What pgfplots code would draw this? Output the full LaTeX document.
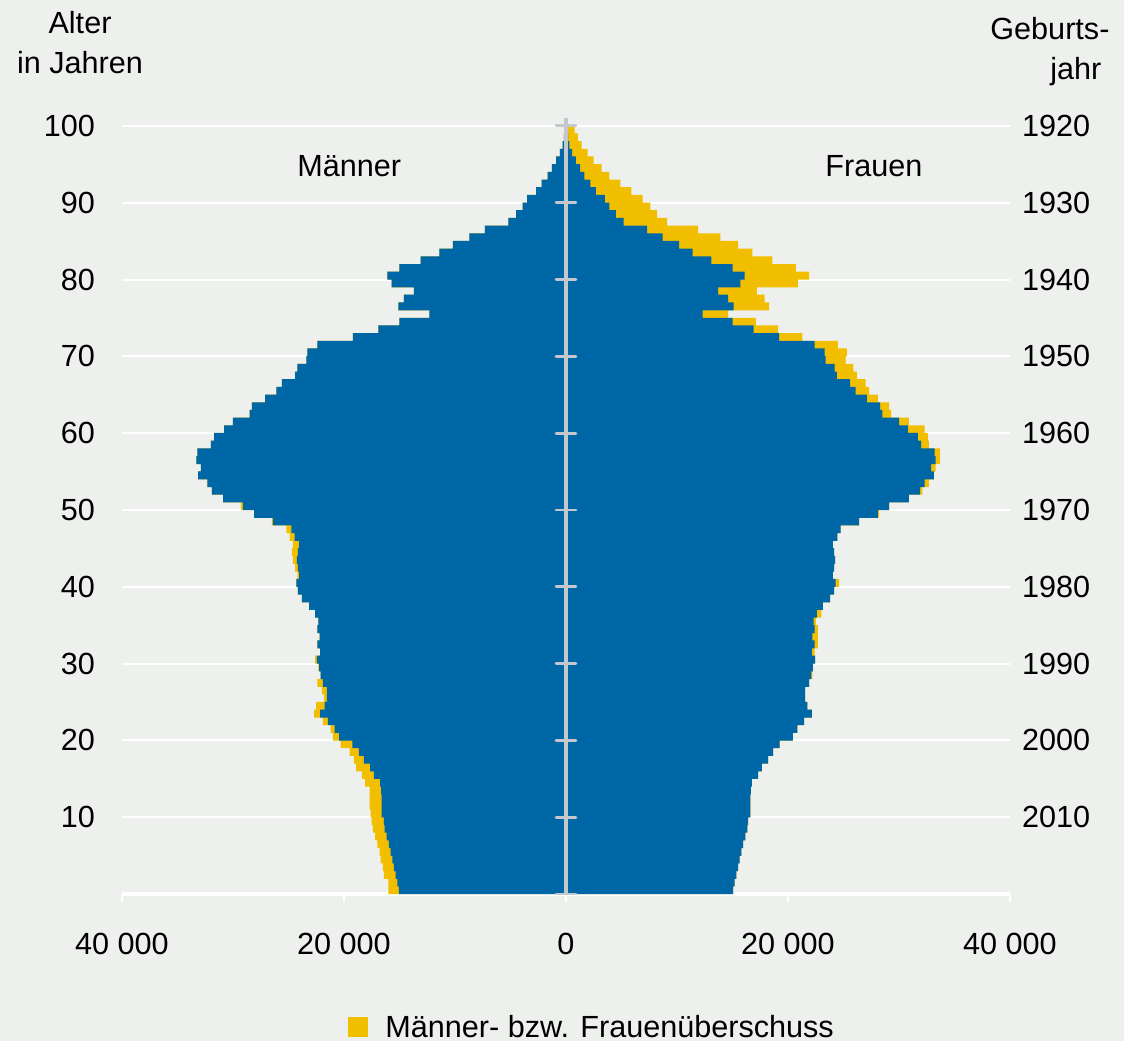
\documentclass[border=0pt]{standalone}
\usepackage{fontspec}
\setmainfont{Liberation Sans}
\usepackage{pgfplots}
\usepackage{pgfplotstable}
\pgfplotsset{compat=1.18}
\definecolor{bg}{RGB}{238,240,238}
\definecolor{dblue}{RGB}{0,103,166}
\definecolor{dyellow}{RGB}{242,190,0}
\definecolor{cgray}{RGB}{196,200,204}
\newcommand\cf{\fontsize{15.3}{18}\selectfont}
\pgfplotstableread{
age M F B
0 16000 15050 15050
1 16000 15200 15200
2 16400 15350 15350
3 16500 15500 15500
4 16700 15650 15650
5 16800 15800 15800
6 17000 15950 15950
7 17200 16150 16150
8 17400 16350 16350
9 17500 16400 16400
10 17600 16600 16600
11 17700 16600 16600
12 17700 16600 16600
13 17700 16650 16650
14 18100 16750 16750
15 18400 17300 17300
16 18900 17650 17650
17 19100 18200 18200
18 19500 18650 18650
19 20300 19250 19250
20 21000 20450 20450
21 21200 20850 20850
22 21900 21450 21450
23 22700 22150 22150
24 22500 21750 21750
25 21800 21550 21550
26 22000 21550 21550
27 22400 21900 21900
28 22100 22200 22100
29 22300 22250 22250
30 22600 22450 22450
31 22150 22400 22150
32 22400 22700 22400
33 22200 22700 22200
34 22400 22700 22400
35 22300 22500 22300
36 22600 23000 22600
37 23150 23150 23150
38 23800 23800 23800
39 24150 24150 24150
40 24300 24600 24300
41 24200 24050 24050
42 24400 24150 24150
43 24600 24250 24250
44 24700 24150 24150
45 24600 24050 24050
46 24900 24450 24450
47 25200 24750 24750
48 26500 26400 26400
49 28100 28200 28100
50 29300 29100 29100
51 30900 30900 30900
52 31900 32100 31900
53 32300 32700 32300
54 33150 33150 33150
55 32900 33300 32900
56 33300 33700 33300
57 33200 33700 33200
58 32000 32700 32000
59 31700 32600 31700
60 30800 32300 30800
61 30000 30900 30000
62 28500 29300 28500
63 28300 29100 28300
64 27100 28100 27100
65 26100 27300 26100
66 25600 27000 25600
67 24400 26200 24400
68 24200 25900 24200
69 23400 25200 23400
70 23300 25300 23300
71 22400 24500 22400
72 19200 21300 19200
73 16900 19100 16900
74 15000 17100 15000
75 12300 14600 12300
76 15100 18300 15100
77 14600 17900 14600
78 13700 17200 13700
79 15700 20900 15700
80 16100 21900 16100
81 15000 20700 15000
82 13100 18600 13100
83 11400 16800 11400
84 10200 15500 10200
85 8700 13900 8700
86 7300 11900 7300
87 5200 9100 5200
88 4500 8200 4500
89 3900 7600 3900
90 3500 6900 3500
91 2700 5900 2700
92 2200 4900 2200
93 1650 3900 1650
94 1270 3200 1270
95 900 2500 900
96 550 1940 550
97 300 1400 300
98 200 1070 200
99 100 770 100
}\pop
\begin{document}
\begin{tikzpicture}
\fill[bg] (0,0) rectangle (562pt,-520.5pt);
\begin{axis}[
  at={(61pt,-447pt)}, anchor=south west,
  scale only axis, width=444pt, height=387.9pt,
  xmin=-40000, xmax=40000, ymin=0, ymax=101,
  axis x line*=bottom, axis y line*=left,
  x axis line style={-, white, line width=2pt},
  y axis line style={draw=none},
  scaled x ticks=false,
  xtick={-40000,-20000,0,20000,40000},
  xticklabels={40 000,20 000,0,20 000,40 000},
  ytick={10,20,30,40,50,60,70,80,90,100},
  yticklabels={10,20,30,40,50,60,70,80,90,100},
  tick label style={font=\cf, text=black},
  xtick style={white, line width=1pt},
  ytick style={draw=none},
  tick align=outside,
  major tick length=4pt,
  xticklabel style={yshift=-12pt},
  yticklabel style={xshift=-6pt},
  ymajorgrids, major grid style={white, line width=1pt},
  clip=false,
]
\addplot[xbar, bar width=1.04, bar shift=0pt, fill=dyellow, draw=none] table[x expr=-\thisrow{M}, y expr=\thisrow{age}+0.5] {\pop};
\addplot[xbar, bar width=1.04, bar shift=0pt, fill=dyellow, draw=none] table[x=F, y expr=\thisrow{age}+0.5] {\pop};
\addplot[xbar, bar width=1.04, bar shift=0pt, fill=dblue, draw=none] table[x expr=-\thisrow{B}, y expr=\thisrow{age}+0.5] {\pop};
\addplot[xbar, bar width=1.04, bar shift=0pt, fill=dblue, draw=none] table[x=B, y expr=\thisrow{age}+0.5] {\pop};
\draw[cgray, line width=1.8pt] (axis cs:0,0) -- (axis cs:0,101);
\pgfplotsinvokeforeach{0,10,...,100}{\draw[cgray, line width=1.4pt, line cap=round] ([xshift=-5pt]axis cs:0,#1) -- ([xshift=5pt]axis cs:0,#1);}
\end{axis}
\begin{axis}[
  at={(61pt,-447pt)}, anchor=south west,
  scale only axis, width=444pt, height=387.9pt,
  xmin=-40000, xmax=40000, ymin=0, ymax=101,
  axis x line=none, xtick=\empty,
  axis y line*=right,
  y axis line style={draw=none},
  ytick={10,20,30,40,50,60,70,80,90,100},
  yticklabels={2010,2000,1990,1980,1970,1960,1950,1940,1930,1920},
  ytick style={draw=none},
  tick label style={font=\cf, text=black},
  yticklabel style={xshift=2.5pt},
]
\addplot[draw=none] coordinates {(0,0)};
\end{axis}
\node[anchor=base, font=\cf] at (40pt,-16.5pt) {Alter};
\node[anchor=base, font=\cf] at (40pt,-36.5pt) {in Jahren};
\node[anchor=base west, font=\cf, inner sep=0pt] at (495pt,-19.5pt) {Geburts-};
\node[anchor=base west, font=\cf, inner sep=0pt] at (525pt,-39.5pt) {jahr};
\node[anchor=base west, font=\cf, inner sep=0pt] at (148.5pt,-88pt) {Männer};
\node[anchor=base west, font=\cf, inner sep=0pt] at (412.5pt,-88pt) {Frauen};
\fill[dyellow] (174pt,-508.5pt) rectangle (184pt,-518.5pt);
\node[anchor=base west, font=\cf, inner sep=0pt] at (192.5pt,-518.5pt) {Männer- bzw. Frauenüberschuss};
\pgfresetboundingbox
\path[use as bounding box] (0,0) rectangle (562pt,-520.5pt);
\end{tikzpicture}
\end{document}
